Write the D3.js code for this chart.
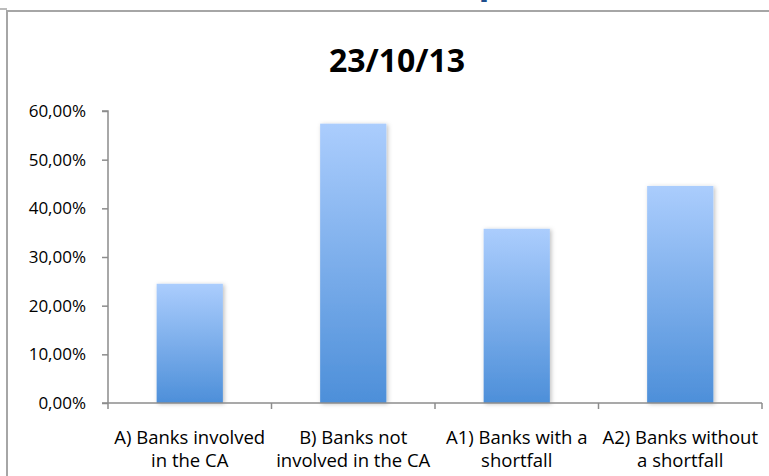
<!DOCTYPE html>
<html>
<head>
<meta charset="utf-8">
<script src="https://cdn.jsdelivr.net/npm/d3@7"></script>
<style>
  body { margin: 0; background: #fff; }
  svg { display: block; }
</style>
</head>
<body>
<svg width="769" height="476"></svg>
<script>
// values
var categories = [
    ["A) Banks involved", "in the CA"],
    ["B) Banks not", "involved in the CA"],
    ["A1) Banks with a", "shortfall"],
    ["A2) Banks without", "a shortfall"]
];
var shares = [0.245, 0.574, 0.358, 0.446];
var yTicks = [0, 0.1, 0.2, 0.3, 0.4, 0.5, 0.6];
var chartTitle = "23/10/13";

var svg = d3.select("svg");
var font = "'Open Sans', sans-serif";

// frame of the slide (cut off at the top)
svg.append("line")
    .attr("x1", 0).attr("x2", 7).attr("y1", 9).attr("y2", 9)
    .attr("stroke", "#a6a6a6").attr("stroke-width", 1.5);
svg.append("path")
    .attr("d", "M7,476 V11 H769")
    .attr("fill", "none")
    .attr("stroke", "#a6a6a6")
    .attr("stroke-width", 2);
// tail of the blue heading above the frame
svg.append("text")
    .attr("x", 490).attr("y", -7)
    .attr("text-anchor", "middle")
    .attr("font-family", font)
    .attr("font-weight", "bold")
    .attr("font-size", 36)
    .attr("fill", "#1f4e8c")
    .text("p");

var defs = svg.append("defs");
var grad = defs.append("linearGradient")
    .attr("id", "barGrad")
    .attr("x1", 0).attr("y1", 0).attr("x2", 0).attr("y2", 1);
grad.append("stop").attr("offset", "0%").attr("stop-color", "#abcdfd");
grad.append("stop").attr("offset", "100%").attr("stop-color", "#4d8fd9");

var shadow = defs.append("filter")
    .attr("id", "shadow")
    .attr("x", "-20%").attr("y", "-10%")
    .attr("width", "140%").attr("height", "120%");
shadow.append("feDropShadow")
    .attr("dx", 1.5).attr("dy", 1)
    .attr("stdDeviation", 2)
    .attr("flood-color", "#000")
    .attr("flood-opacity", 0.25);

var plotLeft = 108, plotRight = 762, plotTop = 111, plotBottom = 403;

var x = d3.scaleBand()
    .domain(d3.range(categories.length))
    .range([plotLeft, plotRight])
    .paddingInner(0.595)
    .paddingOuter(0.2975);

var y = d3.scaleLinear()
    .domain([0, 0.6])
    .range([plotBottom, plotTop]);

svg.append("text")
    .attr("x", 397).attr("y", 72)
    .attr("text-anchor", "middle")
    .attr("font-family", font)
    .attr("font-weight", "bold")
    .attr("font-size", 32)
    .attr("fill", "#000")
    .text(chartTitle);

// bars
svg.append("g")
    .selectAll("rect")
    .data(shares)
    .enter()
    .append("rect")
    .attr("x", function (d, i) { return x(i); })
    .attr("width", x.bandwidth())
    .attr("y", function (d) { return y(d); })
    .attr("height", function (d) { return plotBottom - y(d); })
    .attr("fill", "url(#barGrad)")
    .attr("filter", "url(#shadow)");

// y axis
var yAxis = svg.append("g")
    .attr("transform", "translate(" + plotLeft + ",0)")
    .call(d3.axisLeft(y)
        .tickValues(yTicks)
        .tickSize(6)
        .tickPadding(16)
        .tickFormat(function (d) {
            return d3.format(".2f")(d * 100).replace(".", ",") + "%";
        }));
yAxis.select(".domain")
    .attr("d", "M-6," + plotTop + "H0V" + plotBottom)
    .attr("stroke", "#8c8c8c")
    .attr("stroke-width", 1.5);
yAxis.selectAll(".tick line").attr("stroke", "#8c8c8c").attr("stroke-width", 1.5);
yAxis.selectAll(".tick text")
    .attr("font-family", font)
    .attr("font-size", 17)
    .attr("fill", "#000");

// category axis
var xEdges = d3.range(categories.length + 1).map(function (i) {
    return plotLeft + i * (plotRight - plotLeft) / categories.length;
});
var xAxis = svg.append("g");
xAxis.append("line")
    .attr("x1", plotLeft - 6).attr("x2", plotRight)
    .attr("y1", plotBottom).attr("y2", plotBottom)
    .attr("stroke", "#8c8c8c").attr("stroke-width", 1.5);
xAxis.selectAll("line.tk")
    .data(xEdges)
    .enter()
    .append("line")
    .attr("class", "tk")
    .attr("x1", function (d) { return d; })
    .attr("x2", function (d) { return d; })
    .attr("y1", plotBottom).attr("y2", plotBottom + 6)
    .attr("stroke", "#8c8c8c").attr("stroke-width", 1.5);

var labels = xAxis.selectAll("text")
    .data(categories)
    .enter()
    .append("text")
    .attr("text-anchor", "middle")
    .attr("font-family", font)
    .attr("font-size", 18.5)
    .attr("fill", "#000");
labels.selectAll("tspan")
    .data(function (d, i) {
        return d.map(function (line) { return { line: line, i: i }; });
    })
    .enter()
    .append("tspan")
    .attr("x", function (d) { return x(d.i) + x.bandwidth() / 2; })
    .attr("y", function (d, j) { return 444 + j * 23; })
    .text(function (d) { return d.line; });
</script>
</body>
</html>
